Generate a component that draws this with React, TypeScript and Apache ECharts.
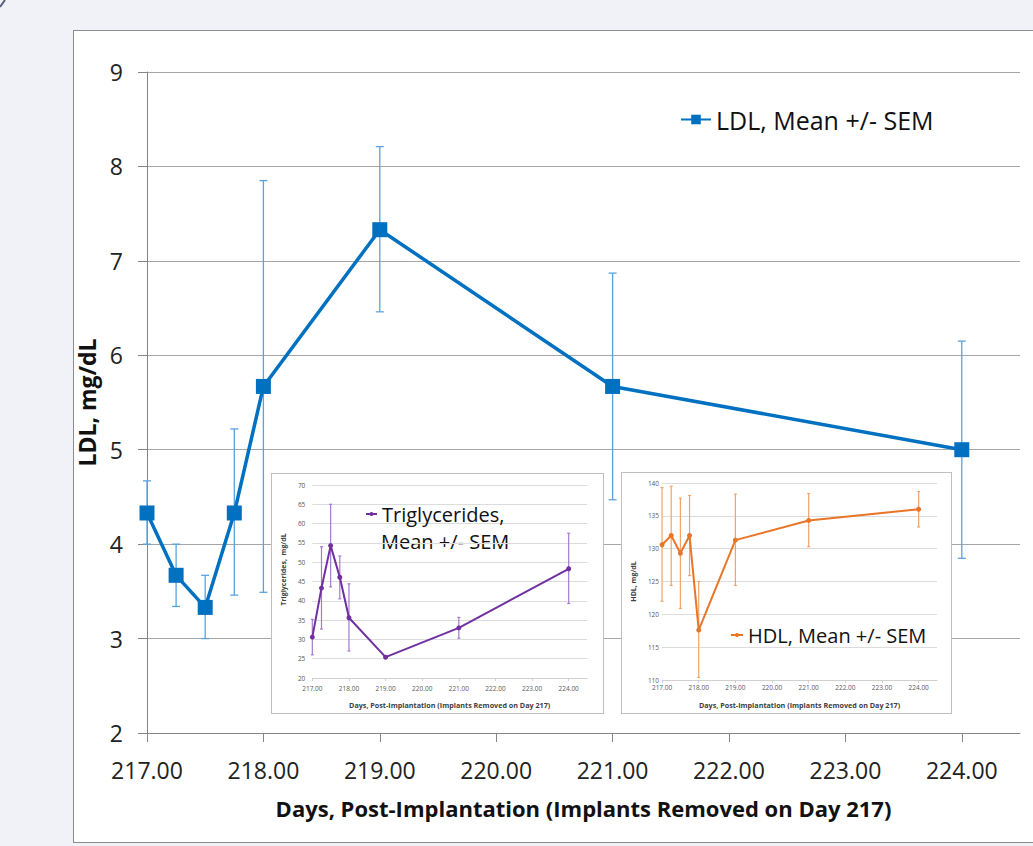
import React, { useEffect, useRef } from 'react';
import * as echarts from 'echarts';

const FONT = '"Open Sans", "DejaVu Sans", sans-serif';

// Days post-implantation (x values shared by all three panels)
const days = [217, 217.25, 217.5, 217.75, 218, 219, 221, 224];
const xTicks = [217, 218, 219, 220, 221, 222, 223, 224];

// LDL, mg/dL
const ldlMean = [4.33, 3.67, 3.33, 4.33, 5.67, 7.33, 5.67, 5.0];
const ldlLow = [4.0, 3.34, 3.0, 3.46, 3.49, 6.46, 4.47, 3.85];
const ldlHigh = [4.67, 4.0, 3.67, 5.22, 7.85, 8.21, 6.87, 6.15];

// Triglycerides, mg/dL
const tgMean = [30.6, 43.3, 54.3, 46.1, 35.6, 25.4, 33.0, 48.3];
const tgLow = [26.0, 32.7, 43.6, 40.5, 27.0, 25.0, 30.3, 39.3];
const tgHigh = [35.2, 54.0, 65.0, 51.6, 44.4, 25.8, 35.7, 57.5];

// HDL, mg/dL
const hdlMean = [130.6, 132.0, 129.3, 132.0, 117.6, 131.3, 134.3, 136.0];
const hdlLow = [122.0, 124.4, 120.9, 125.9, 110.4, 124.4, 130.3, 133.3];
const hdlHigh = [139.3, 139.5, 137.7, 138.1, 125.0, 138.3, 138.4, 138.7];

const X_TITLE = 'Days, Post-Implantation (Implants Removed on Day 217)';

function errorSeries(lows: number[], highs: number[], color: string, cap: number, width: number, z: number) {
  return {
    type: 'custom',
    z,
    silent: true,
    data: days.map((d, i) => [d, lows[i], highs[i]]),
    encode: { x: 0, y: [1, 2] },
    renderItem: (params: any, api: any) => {
      const x = api.value(0);
      const lo = api.coord([x, api.value(1)]);
      const hi = api.coord([x, api.value(2)]);
      const style = { stroke: color, lineWidth: width };
      return {
        type: 'group',
        children: [
          { type: 'line', shape: { x1: lo[0], y1: lo[1], x2: hi[0], y2: hi[1] }, style },
          { type: 'line', shape: { x1: hi[0] - cap, y1: hi[1], x2: hi[0] + cap, y2: hi[1] }, style },
          { type: 'line', shape: { x1: lo[0] - cap, y1: lo[1], x2: lo[0] + cap, y2: lo[1] }, style },
        ],
      };
    },
  };
}

function mainOption(): any {
  const name = 'LDL, Mean +/- SEM';
  return {
    animation: false,
    textStyle: { fontFamily: FONT },
    grid: { left: 147, right: 13, top: 72, bottom: 113 },
    legend: {
      data: [name],
      left: 680,
      top: 107,
      padding: 0,
      itemWidth: 30,
      itemHeight: 12,
      textStyle: { fontSize: 25, color: '#111', fontFamily: FONT },
    },
    xAxis: {
      type: 'value',
      min: 217,
      max: 224.5,
      interval: 1,
      axisLine: { lineStyle: { color: '#868686', width: 1 } },
      axisTick: { show: true, length: 9, lineStyle: { color: '#868686' }, customValues: xTicks },
      axisLabel: {
        customValues: xTicks,
        formatter: (v: number) => v.toFixed(2),
        fontSize: 23,
        color: '#222',
        margin: 25,
        fontFamily: FONT,
      },
      splitLine: { show: false },
      name: X_TITLE,
      nameLocation: 'middle',
      nameGap: 64,
      nameTextStyle: { fontSize: 22, fontWeight: 'bold', color: '#111', fontFamily: FONT },
    },
    yAxis: {
      type: 'value',
      min: 2,
      max: 9,
      interval: 1,
      axisLine: { show: true, lineStyle: { color: '#868686', width: 1 } },
      axisTick: { show: true, length: 9, lineStyle: { color: '#868686' } },
      axisLabel: { fontSize: 23, color: '#222', margin: 24, fontFamily: FONT },
      splitLine: { show: true, lineStyle: { color: '#a6a6a6', width: 1 } },
      name: 'LDL, mg/dL',
      nameLocation: 'middle',
      nameGap: 43,
      nameTextStyle: { fontSize: 23, fontWeight: 'bold', color: '#111', fontFamily: FONT },
    },
    series: [
      errorSeries(ldlLow, ldlHigh, '#5aa2de', 4, 1.3, 1),
      {
        type: 'line',
        name,
        z: 3,
        data: days.map((d, i) => [d, ldlMean[i]]),
        symbol: 'rect',
        symbolSize: 15,
        lineStyle: { color: '#0070c0', width: 3.5 },
        itemStyle: { color: '#0070c0' },
      },
    ],
    graphic: [
      { type: 'line', shape: { x1: 0, y1: 7, x2: 5, y2: 0 }, style: { stroke: '#56607a', lineWidth: 2 } },
    ],
  };
}

interface InsetCfg {
  name: string;
  legendLabel: string;
  mean: number[];
  low: number[];
  high: number[];
  color: string;
  errColor: string;
  yMin: number;
  yMax: number;
  yName: string;
  yNamePadding: number[];
  grid: any;
  yLabelMargin: number;
  xLabelMargin: number;
  xNameGap: number;
  yNameGap: number;
  legendLeft: number;
  legendTop: number;
  legendItemWidth: number;
  extraGraphic: any[];
}

function insetOption(c: InsetCfg): any {
  return {
    animation: false,
    textStyle: { fontFamily: FONT },
    grid: c.grid,
    legend: {
      data: [c.name],
      left: c.legendLeft,
      top: c.legendTop,
      padding: 0,
      itemWidth: c.legendItemWidth,
      itemHeight: 5,
      formatter: () => c.legendLabel,
      textStyle: { fontSize: 20, color: '#111', fontFamily: FONT },
    },
    xAxis: {
      type: 'value',
      min: 217,
      max: 224.5,
      interval: 1,
      axisLine: { lineStyle: { color: '#d0d0d0', width: 1 } },
      axisTick: { show: true, length: 3, lineStyle: { color: '#d0d0d0' }, customValues: xTicks },
      axisLabel: {
        customValues: xTicks,
        formatter: (v: number) => v.toFixed(2),
        fontSize: 6.5,
        color: '#595959',
        margin: c.xLabelMargin,
        fontFamily: FONT,
      },
      splitLine: { show: false },
      name: X_TITLE,
      nameLocation: 'middle',
      nameGap: c.xNameGap,
      nameTextStyle: { fontSize: 7.2, fontWeight: 'bold', color: '#404040', fontFamily: FONT },
    },
    yAxis: {
      type: 'value',
      min: c.yMin,
      max: c.yMax,
      interval: 5,
      axisLine: { show: false },
      axisTick: { show: false },
      axisLabel: { fontSize: 6.5, color: '#595959', margin: c.yLabelMargin, fontFamily: FONT },
      splitLine: { show: true, lineStyle: { color: '#dcdcdc', width: 1 } },
      name: c.yName,
      nameLocation: 'middle',
      nameGap: c.yNameGap,
      nameTextStyle: {
        fontSize: 7,
        fontWeight: 'bold',
        color: '#404040',
        fontFamily: FONT,
        padding: c.yNamePadding,
      },
    },
    series: [
      errorSeries(c.low, c.high, c.errColor, 1.5, 1.2, 1),
      {
        type: 'line',
        name: c.name,
        z: 3,
        data: days.map((d, i) => [d, c.mean[i]]),
        symbol: 'circle',
        symbolSize: 5,
        lineStyle: { color: c.color, width: 2 },
        itemStyle: { color: c.color },
      },
    ],
    graphic: c.extraGraphic,
  };
}

function Chart({ option, style }: { option: any; style: React.CSSProperties }) {
  const ref = useRef<HTMLDivElement>(null);
  useEffect(() => {
    if (!ref.current) return;
    const chart = echarts.init(ref.current, null, { renderer: 'svg' });
    chart.setOption(option);
    return () => chart.dispose();
  }, []);
  return <div ref={ref} style={style} />;
}

export default function App() {
  const tgOpt = insetOption({
    name: 'Triglycerides, Mean +/- SEM',
    legendLabel: 'Triglycerides,',
    mean: tgMean,
    low: tgLow,
    high: tgHigh,
    color: '#7030a0',
    errColor: '#a27ccc',
    yMin: 20,
    yMax: 70,
    yName: 'Triglycerides,  mg/dL',
    yNamePadding: [0, 0, 0, 24],
    grid: { left: 34, right: 16, top: 11, bottom: 33 },
    yLabelMargin: 7,
    xLabelMargin: 7,
    xNameGap: 23,
    yNameGap: 17,
    legendLeft: 93,
    legendTop: 30,
    legendItemWidth: 11,
    extraGraphic: [
      {
        type: 'text',
        left: 109,
        top: 57,
        style: { text: 'Mean +/- SEM', fontSize: 20, fill: '#111', fontFamily: FONT },
      },
    ],
  });
  const hdlOpt = insetOption({
    name: 'HDL, Mean +/- SEM',
    legendLabel: 'HDL, Mean +/- SEM',
    mean: hdlMean,
    low: hdlLow,
    high: hdlHigh,
    color: '#e97527',
    errColor: '#f0a36a',
    yMin: 110,
    yMax: 140,
    yName: 'HDL, mg/dL',
    yNamePadding: [0, 0, 0, 0],
    grid: { left: 34, right: 14, top: 10, bottom: 32 },
    yLabelMargin: 3,
    xLabelMargin: 4,
    xNameGap: 21,
    yNameGap: 23,
    legendLeft: 108,
    legendTop: 152,
    legendItemWidth: 12,
    extraGraphic: [],
  });

  return (
    <div
      style={{
        position: 'fixed',
        left: 0,
        top: 0,
        width: 1033,
        height: 846,
        overflow: 'hidden',
        background: '#f0f2f8',
      }}
    >
      <div
        style={{
          position: 'absolute',
          left: 73,
          top: 30,
          width: 1000,
          height: 813,
          background: '#ffffff',
          border: '1.5px solid #8c8c8c',
          boxSizing: 'border-box',
        }}
      />
      <Chart option={mainOption()} style={{ position: 'absolute', left: 0, top: 0, width: 1033, height: 846 }} />
      <div
        style={{
          position: 'absolute',
          left: 271,
          top: 473,
          width: 333,
          height: 241,
          background: '#fff',
          border: '1px solid #bfbfbf',
          boxSizing: 'border-box',
        }}
      >
        <Chart option={tgOpt} style={{ width: 331, height: 239 }} />
      </div>
      <div
        style={{
          position: 'absolute',
          left: 621,
          top: 472,
          width: 331,
          height: 242,
          background: '#fff',
          border: '1px solid #bfbfbf',
          boxSizing: 'border-box',
        }}
      >
        <Chart option={hdlOpt} style={{ width: 329, height: 240 }} />
      </div>
    </div>
  );
}
